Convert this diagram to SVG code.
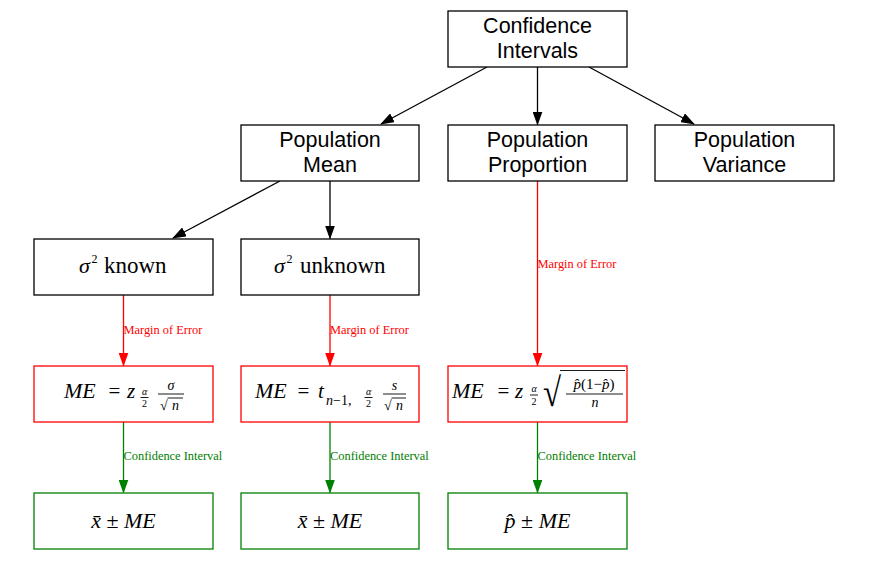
<svg xmlns="http://www.w3.org/2000/svg" width="869" height="580" viewBox="0 0 869 580">
<style>
.box{fill:#fff;stroke:#000;stroke-width:1.3}
.rbox{fill:#fff;stroke:#ff0000;stroke-width:1.3}
.gbox{fill:#fff;stroke:#008000;stroke-width:1.3}
.lbl{font-family:"Liberation Sans",Arial,sans-serif;font-size:21.5px;fill:#000;text-anchor:middle}
.m{font-family:"Liberation Serif","DejaVu Serif",serif;fill:#000}
.i{font-style:italic}
.c{text-anchor:middle}
.el{font-family:"Liberation Serif","Times New Roman",serif;font-size:12.4px}
.bar{stroke:#000;stroke-width:0.9}
</style>
<defs>
<marker id="ak" markerWidth="14" markerHeight="10" refX="13" refY="5" orient="auto" markerUnits="userSpaceOnUse"><path d="M0,0 L14,5 L0,10 z" fill="#000"/></marker>
<marker id="ar" markerWidth="14" markerHeight="10" refX="13" refY="5" orient="auto" markerUnits="userSpaceOnUse"><path d="M0,0 L14,5 L0,10 z" fill="#ff0000"/></marker>
<marker id="ag" markerWidth="14" markerHeight="10" refX="13" refY="5" orient="auto" markerUnits="userSpaceOnUse"><path d="M0,0 L14,5 L0,10 z" fill="#008000"/></marker>
</defs>
<rect width="869" height="580" fill="#fff"/>

<g id="connectors" fill="none" stroke-width="1.3">
<line x1="487" y1="67" x2="381" y2="124" stroke="#000" marker-end="url(#ak)"/>
<line x1="537.5" y1="67" x2="537.5" y2="124.5" stroke="#000" marker-end="url(#ak)"/>
<line x1="589" y1="67" x2="694" y2="124" stroke="#000" marker-end="url(#ak)"/>
<line x1="280" y1="181" x2="173" y2="238" stroke="#000" marker-end="url(#ak)"/>
<line x1="330" y1="181" x2="330" y2="238.5" stroke="#000" marker-end="url(#ak)"/>
<line x1="123.5" y1="295" x2="123.5" y2="365.5" stroke="#ff0000" marker-end="url(#ar)"/>
<line x1="330" y1="295" x2="330" y2="365.5" stroke="#ff0000" marker-end="url(#ar)"/>
<line x1="537.5" y1="181" x2="537.5" y2="365.5" stroke="#ff0000" marker-end="url(#ar)"/>
<line x1="123.5" y1="422" x2="123.5" y2="492.5" stroke="#008000" marker-end="url(#ag)"/>
<line x1="330" y1="422" x2="330" y2="492.5" stroke="#008000" marker-end="url(#ag)"/>
<line x1="537.5" y1="422" x2="537.5" y2="492.5" stroke="#008000" marker-end="url(#ag)"/>
<text class="el" x="123.5" y="334" fill="#ff0000">Margin of Error</text>
<text class="el" x="330" y="334" fill="#ff0000">Margin of Error</text>
<text class="el" x="537.5" y="268" fill="#ff0000">Margin of Error</text>
<text class="el" x="123.5" y="460" fill="#008000">Confidence Interval</text>
<text class="el" x="330" y="460" fill="#008000">Confidence Interval</text>
<text class="el" x="537.5" y="460" fill="#008000">Confidence Interval</text>
</g>

<g id="ci">
<rect class="box" x="448" y="11" width="179" height="56"/>
<text class="lbl" x="537.5" y="33">Confidence</text>
<text class="lbl" x="537.5" y="58">Intervals</text>
</g>
<g id="pmean">
<rect class="box" x="241" y="125" width="178" height="56"/>
<text class="lbl" x="330" y="147">Population</text>
<text class="lbl" x="330" y="172">Mean</text>
</g>
<g id="pprop">
<rect class="box" x="448" y="125" width="179" height="56"/>
<text class="lbl" x="537.5" y="147">Population</text>
<text class="lbl" x="537.5" y="172">Proportion</text>
</g>
<g id="pvar">
<rect class="box" x="655" y="125" width="179" height="56"/>
<text class="lbl" x="744.5" y="147">Population</text>
<text class="lbl" x="744.5" y="172">Variance</text>
</g>

<g id="known">
<rect class="box" x="34" y="239" width="179" height="56"/>
<text class="m i" x="79" y="273" font-size="22">σ</text>
<text class="m" x="91.5" y="263" font-size="12">2</text>
<text class="m" x="104" y="273" font-size="23">known</text>
</g>
<g id="unknown">
<rect class="box" x="241" y="239" width="178" height="56"/>
<text class="m i" x="274" y="273" font-size="22">σ</text>
<text class="m" x="286.5" y="263" font-size="12">2</text>
<text class="m" x="300" y="273" font-size="23">unknown</text>
</g>

<g id="me1">
<rect class="rbox" x="34" y="366" width="179" height="56"/>
<text class="m i" x="64" y="398" font-size="22">ME</text>
<text class="m c" x="114.5" y="398" font-size="21">=</text>
<text class="m i" x="127" y="398" font-size="21">z</text>
<text class="m i c" x="144.5" y="394.5" font-size="10">α</text>
<line class="bar" x1="140.5" y1="397.5" x2="148.5" y2="397.5"/>
<text class="m c" x="144.5" y="406.5" font-size="10">2</text>
<text class="m i c" x="171" y="390" font-size="14">σ</text>
<line class="bar" x1="158" y1="394" x2="184" y2="394"/>
<text class="m" x="160" y="410" font-size="14">√</text>
<line class="bar" x1="167.5" y1="398" x2="183" y2="398"/>
<text class="m i c" x="175.5" y="410" font-size="14">n</text>
</g>

<g id="me2">
<rect class="rbox" x="241" y="366" width="178" height="56"/>
<text class="m i" x="255" y="398" font-size="22">ME</text>
<text class="m c" x="303.5" y="398" font-size="21">=</text>
<text class="m i" x="318" y="398" font-size="21">t</text>
<text class="m" x="326" y="405" font-size="14"><tspan class="i">n</tspan>−1,</text>
<text class="m i c" x="368.5" y="394.5" font-size="10">α</text>
<line class="bar" x1="364.5" y1="397.5" x2="372.5" y2="397.5"/>
<text class="m c" x="368.5" y="406.5" font-size="10">2</text>
<text class="m i c" x="394.5" y="390" font-size="14">s</text>
<line class="bar" x1="383" y1="394" x2="406" y2="394"/>
<text class="m" x="384" y="410" font-size="14">√</text>
<line class="bar" x1="391.5" y1="398" x2="406" y2="398"/>
<text class="m i c" x="399.5" y="410" font-size="14">n</text>
</g>

<g id="me3">
<rect class="rbox" x="448" y="366" width="179" height="56"/>
<text class="m i" x="452" y="398" font-size="22">ME</text>
<text class="m c" x="503.5" y="398" font-size="21">=</text>
<text class="m i" x="515" y="398" font-size="21">z</text>
<text class="m i c" x="534" y="392" font-size="10">α</text>
<line class="bar" x1="530" y1="395" x2="538" y2="395"/>
<text class="m c" x="534" y="404.5" font-size="10">2</text>
<text class="m" x="543" y="406" font-size="40" textLength="18" lengthAdjust="spacingAndGlyphs">√</text>
<line class="bar" x1="560" y1="370.5" x2="625" y2="370.5"/>
<text class="m c" x="594" y="389" font-size="15"><tspan class="i">p̂</tspan>(1−<tspan class="i">p̂</tspan>)</text>
<line class="bar" x1="566" y1="394" x2="623" y2="394"/>
<text class="m i c" x="595" y="407" font-size="14">n</text>
</g>

<g id="ci1">
<rect class="gbox" x="34" y="493" width="179" height="56"/>
<text class="m c" x="123.5" y="528" font-size="22"><tspan class="i">x̄</tspan> ± <tspan class="i">ME</tspan></text>
</g>
<g id="ci2">
<rect class="gbox" x="241" y="493" width="178" height="56"/>
<text class="m c" x="330" y="528" font-size="22"><tspan class="i">x̄</tspan> ± <tspan class="i">ME</tspan></text>
</g>
<g id="ci3">
<rect class="gbox" x="448" y="493" width="179" height="56"/>
<text class="m c" x="537.5" y="528" font-size="22"><tspan class="i">p̂</tspan> ± <tspan class="i">ME</tspan></text>
</g>
</svg>
